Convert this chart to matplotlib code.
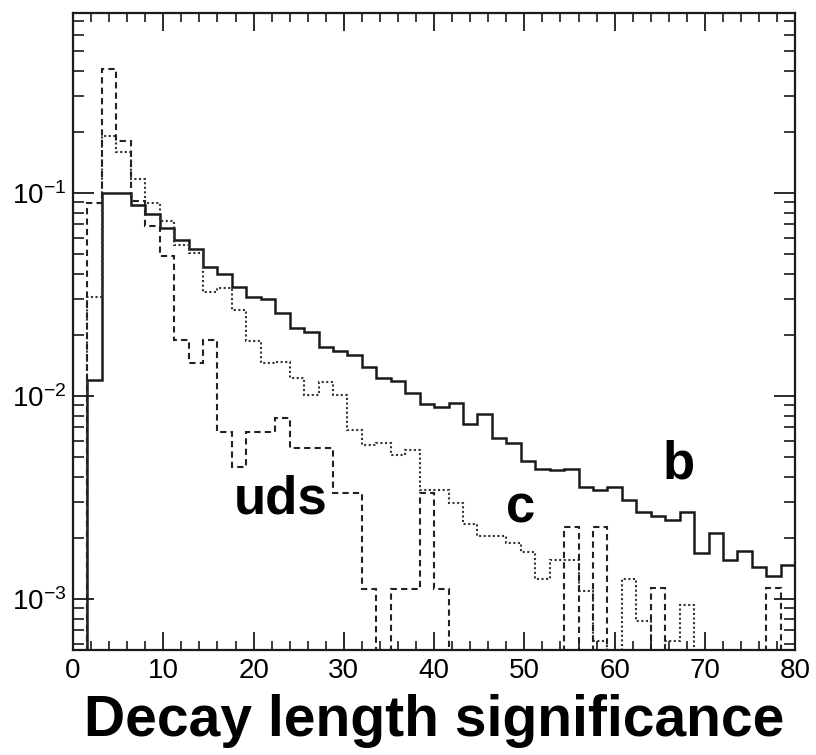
import numpy as np
import matplotlib
matplotlib.use("Agg")
import matplotlib.pyplot as plt
from matplotlib.ticker import LogLocator, MultipleLocator, FixedLocator

plt.rcParams['font.family'] = ['Liberation Sans', 'DejaVu Sans']
plt.rcParams['mathtext.fontset'] = 'custom'
plt.rcParams['mathtext.rm'] = 'Liberation Sans'
plt.rcParams['mathtext.default'] = 'regular'

# 50 bins of width 1.6 from 0 to 80
bin_edges = np.linspace(0, 80, 51)

b_vals = [0, 0.0120, 0.100, 0.100, 0.0870, 0.0790, 0.0672, 0.0583, 0.0528, 0.0429,
          0.0399, 0.0343, 0.0308, 0.0301, 0.0255, 0.0215, 0.0207, 0.0175, 0.0167, 0.0159,
          0.0138, 0.0122, 0.0119, 0.0103, 0.00915, 0.00877, 0.00924, 0.00728, 0.00813, 0.00622,
          0.00583, 0.00479, 0.00437, 0.00432, 0.00436, 0.00357, 0.00344, 0.00357, 0.00307, 0.00269,
          0.00256, 0.00245, 0.00269, 0.00169, 0.00211, 0.00155, 0.00173, 0.00144, 0.00129, 0.00147]

c_vals = [0, 0.0308, 0.191, 0.158, 0.117, 0.0893, 0.0724, 0.0554, 0.0504, 0.0323,
          0.0339, 0.0265, 0.0187, 0.0145, 0.0147, 0.0123, 0.01005, 0.01176, 0.0101, 0.0068,
          0.00574, 0.00589, 0.00512, 0.00542, 0.00342, 0.00342, 0.00296, 0.00233, 0.00203, 0.00203,
          0.00188, 0.00171, 0.00125, 0.00156, 0.00156, 0.00109, 0.00062, 0, 0.00125, 0.00078,
          0, 0.00062, 0.00093, 0, 0, 0, 0, 0, 0, 0]

uds_vals = [0, 0.089, 0.408, 0.181, 0.0913, 0.0686, 0.0490, 0.0189, 0.0146, 0.0189,
            0.00667, 0.00446, 0.00667, 0.00667, 0.00776, 0.00555, 0.00555, 0.00555, 0.00334, 0.00334,
            0.00112, 0, 0.00112, 0.00112, 0.00333, 0.00112, 0, 0, 0, 0,
            0, 0, 0, 0, 0.00225, 0, 0.00225, 0, 0, 0,
            0.00113, 0, 0, 0, 0, 0, 0, 0, 0.00113, 0]

labels = ['b', 'c', 'uds']
label_pos = [(67.1, 0.0046), (49.6, 0.0028), (23.0, 0.0031)]

fig = plt.figure(figsize=(8.16, 7.55), dpi=100)
ax = fig.add_axes([0.0895, 0.139, 0.885, 0.844])

floor = 1e-6  # empty bins drop below the axis
line_col = '#1a1a1a'
ax.stairs(np.where(np.array(b_vals) > 0, b_vals, floor), bin_edges,
          color=line_col, lw=1.8, ls='-')
ax.stairs(np.where(np.array(c_vals) > 0, c_vals, floor), bin_edges,
          color='#333333', lw=1.5, ls=(0, (1, 1.2)))
ax.stairs(np.where(np.array(uds_vals) > 0, uds_vals, floor), bin_edges,
          color='#222222', lw=1.5, ls=(0, (3, 2)))

ax.set_yscale('log')
ax.set_xlim(0, 80)
ax.set_ylim(5.6e-4, 0.77)

ax.xaxis.set_major_locator(MultipleLocator(10))
ax.xaxis.set_minor_locator(MultipleLocator(2))
ax.yaxis.set_major_locator(FixedLocator([1e-3, 1e-2, 1e-1]))
ax.yaxis.set_minor_locator(LogLocator(base=10, subs=np.arange(2, 10), numticks=20))
ax.set_yticklabels([r'$10^{-3}$', r'$10^{-2}$', r'$10^{-1}$'])

ax.tick_params(which='both', direction='in', top=True, right=True, color=line_col)
ax.tick_params(axis='x', which='major', length=13, width=1.3, labelsize=20, pad=6)
ax.tick_params(axis='x', which='minor', length=6.5, width=1.2)
ax.tick_params(axis='y', which='major', length=15, width=1.3, labelsize=20, pad=5)
ax.tick_params(axis='y', which='minor', length=8, width=1.2)
for s in ax.spines.values():
    s.set_linewidth(1.6)
    s.set_color(line_col)

ax.set_xlabel('Decay length significance', fontsize=41, fontweight='bold', labelpad=7)

for lab, (lx, ly) in zip(labels, label_pos):
    ax.text(lx, ly, lab, fontsize=38, fontweight='bold', ha='center', va='center')

fig.savefig('out.png', dpi=100)
